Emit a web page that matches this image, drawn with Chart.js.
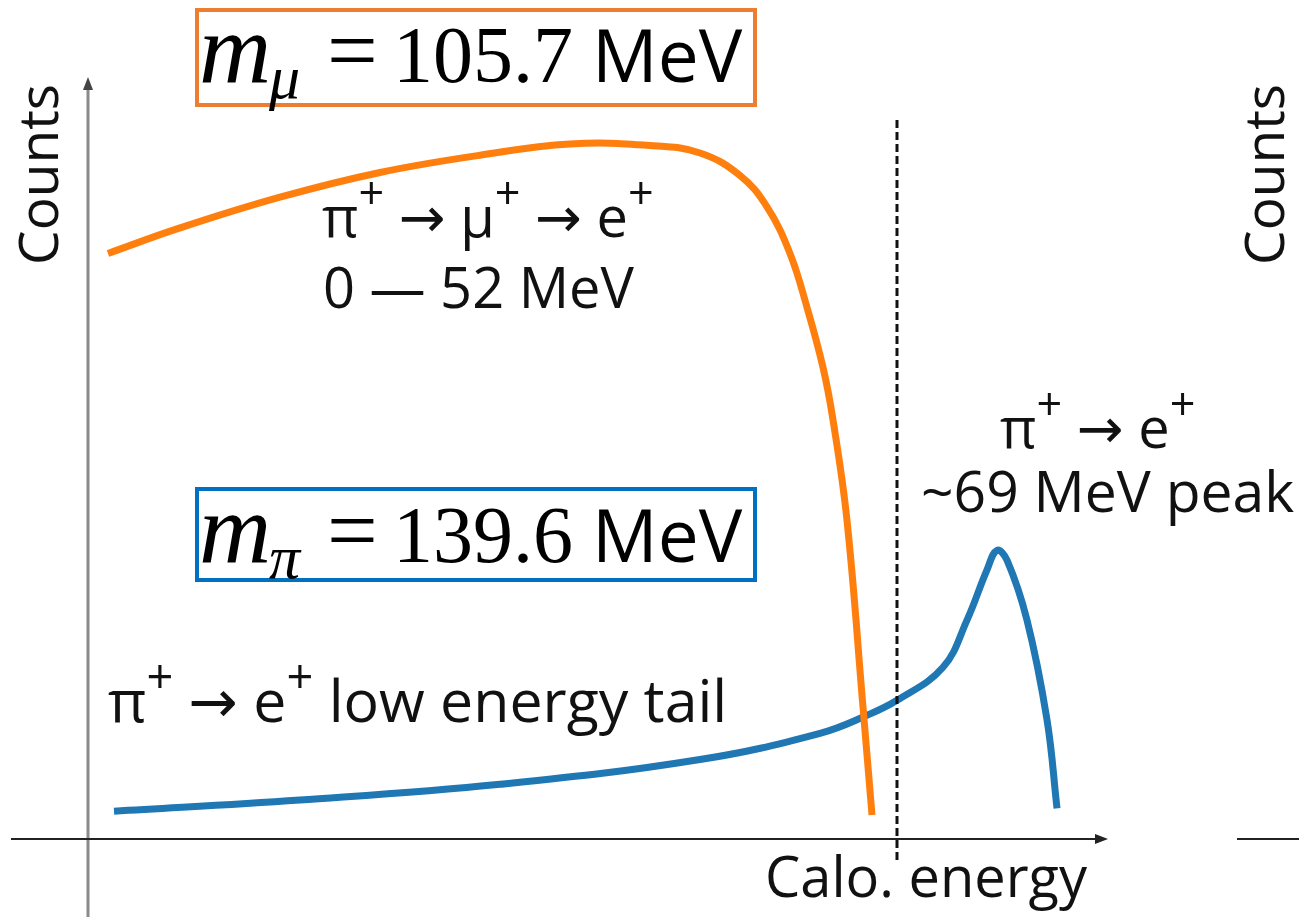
<!DOCTYPE html>
<html>
<head>
<meta charset="utf-8">
<script src="https://cdn.jsdelivr.net/npm/chart.js@4.4.1/dist/chart.umd.min.js"></script>
<style>
  html, body { margin: 0; padding: 0; background: #fff; }
  #wrap { width: 1299px; height: 920px; }
</style>
</head>
<body>
<div id="wrap"><canvas id="spectrum" width="1299" height="920"></canvas></div>
<script>
// Schematic positron spectra (arbitrary energy / count units)
const muChainEnergy = [2.0, 9.2, 19.2, 29.2, 39.2, 48.2, 56.2, 61.2, 65.2, 67.9, 70.2, 71.9, 73.5, 74.5, 75.9, 77.5, 78.4];
const muChainCounts = [78.1, 81.5, 85.6, 88.9, 91.2, 92.7, 92.5, 91.5, 88.5, 84.3, 78.1, 70.9, 62.9, 55.9, 42.5, 17.6, 3.2];

const piDirectEnergy = [2.6, 21.2, 41.2, 61.2, 73.2, 77.9, 80.9, 85.5, 87.9, 89.9, 90.9, 91.9, 93.9, 95.9, 96.9];
const piDirectCounts = [3.7, 5.2, 7.3, 10.6, 14.1, 16.5, 18.5, 22.9, 29.2, 35.9, 38.5, 37.2, 29.2, 15.9, 4.1];

// energy cut separating the two regions
const cutEnergy = 80.9;

const X_MIN = -8.8, X_MAX = 121.1;
const Y_MIN = -10.8, Y_MAX = 111.9;

const SANS = '"Open Sans", "Noto Sans", "DejaVu Sans", sans-serif';
const SERIF = '"Liberation Serif", "DejaVu Serif", serif';

function toPoints(xs, ys) {
    return xs.map((x, i) => ({ x: x, y: ys[i] }));
}

// Draw a run of text where some pieces are superscripts
function drawRich(ctx, x, y, parts, size) {
    let cx = x;
    parts.forEach(p => {
        if (p[1]) {
            ctx.font = Math.round(size * 0.8) + 'px ' + SANS;
            ctx.fillText(p[0], cx, y - size * 0.5);
        } else {
            ctx.font = size + 'px ' + SANS;
            ctx.fillText(p[0], cx, y);
        }
        cx += ctx.measureText(p[0]).width;
    });
}

function drawArrowHead(ctx, x, y, dir) {
    ctx.beginPath();
    if (dir === 'up') {
        ctx.moveTo(x, y);
        ctx.lineTo(x - 5, y + 13);
        ctx.lineTo(x + 5, y + 13);
    } else {
        ctx.moveTo(x, y);
        ctx.lineTo(x - 13, y - 5);
        ctx.lineTo(x - 13, y + 5);
    }
    ctx.closePath();
    ctx.fill();
}

// Mass label: italic m, subscript, then value
function drawMassBox(ctx, left, top, w, h, color, sub, value, baseline) {
    ctx.save();
    ctx.strokeStyle = color;
    ctx.lineWidth = 4;
    ctx.strokeRect(left, top, w, h);
    ctx.fillStyle = '#000';
    ctx.textBaseline = 'alphabetic';
    ctx.font = 'italic 100px ' + SERIF;
    ctx.fillText('m', left + 2, baseline);
    ctx.font = 'italic 62px ' + SERIF;
    ctx.fillText(sub, left + 72, baseline + 16);
    ctx.font = '90px ' + SERIF;
    ctx.fillText('=', left + 130, baseline - 1);
    ctx.font = '80px ' + SERIF;
    ctx.fillText(value, left + 196, baseline);
    ctx.font = '73px ' + SANS;
    ctx.fillText('MeV', left + 395, baseline);
    ctx.restore();
}

const axesPlugin = {
    id: 'axesPlugin',
    beforeDatasetsDraw(chart) {
        const ctx = chart.ctx;
        const xs = chart.scales.x, ys = chart.scales.y;
        const x0 = xs.getPixelForValue(0), y0 = ys.getPixelForValue(0);
        ctx.save();
        // vertical axis
        ctx.strokeStyle = '#8a8a8a';
        ctx.fillStyle = '#444';
        ctx.lineWidth = 3;
        ctx.beginPath();
        ctx.moveTo(x0, chart.height - 3);
        ctx.lineTo(x0, 88);
        ctx.stroke();
        drawArrowHead(ctx, x0, 77, 'up');
        // horizontal axis
        ctx.strokeStyle = '#222';
        ctx.fillStyle = '#222';
        ctx.lineWidth = 2.2;
        ctx.beginPath();
        ctx.moveTo(11, y0);
        ctx.lineTo(1098, y0);
        ctx.stroke();
        drawArrowHead(ctx, 1108, y0, 'right');
        // neighbouring panel edge
        ctx.beginPath();
        ctx.moveTo(1237, y0);
        ctx.lineTo(1299, y0);
        ctx.stroke();
        ctx.restore();
    },
    afterDatasetsDraw(chart) {
        const ctx = chart.ctx;
        const xs = chart.scales.x, ys = chart.scales.y;
        const xc = xs.getPixelForValue(cutEnergy);
        ctx.save();
        ctx.strokeStyle = '#111';
        ctx.lineWidth = 3;
        ctx.setLineDash([8, 4]);
        ctx.beginPath();
        ctx.moveTo(xc, ys.getPixelForValue(95.9));
        ctx.lineTo(xc, ys.getPixelForValue(-3.2));
        ctx.stroke();
        ctx.setLineDash([]);

        ctx.fillStyle = '#111';
        ctx.textBaseline = 'alphabetic';
        ctx.textAlign = 'left';
        drawRich(ctx, 322, 237, [['π', 0], ['+', 1], [' → μ', 0], ['+', 1], [' → e', 0], ['+', 1]], 56);
        drawRich(ctx, 323, 308, [['0 — 52 MeV', 0]], 56);
        drawRich(ctx, 108, 722, [['π', 0], ['+', 1], [' → e', 0], ['+', 1], [' low energy tail', 0]], 59);
        drawRich(ctx, 1000, 448, [['π', 0], ['+', 1], [' → e', 0], ['+', 1]], 56);
        drawRich(ctx, 921, 512, [['~69 MeV peak', 0]], 57);
        drawRich(ctx, 765, 897, [['Calo. energy', 0]], 56);

        // rotated axis titles
        ctx.font = '55px ' + SANS;
        [58, 1284].forEach(bx => {
            ctx.save();
            ctx.translate(bx, 265);
            ctx.rotate(-Math.PI / 2);
            ctx.fillText('Counts', 0, 0);
            ctx.restore();
        });

        drawMassBox(ctx, 197, 10, 558, 95, '#ed7d31', 'μ', '105.7', 82);
        drawMassBox(ctx, 197, 489, 558, 91, '#0070c0', 'π', '139.6', 562);
        ctx.restore();
    }
};

const ctx = document.getElementById('spectrum').getContext('2d');
const spectrumChart = new Chart(ctx, {
    type: 'line',
    data: {
        datasets: [
            {
                label: 'pi -> mu -> e',
                data: toPoints(muChainEnergy, muChainCounts),
                borderColor: '#ff7f0e',
                borderWidth: 7,
                borderCapStyle: 'butt',
                pointRadius: 0,
                tension: 0.4,
                fill: false
            },
            {
                label: 'pi -> e',
                data: toPoints(piDirectEnergy, piDirectCounts),
                borderColor: '#1f77b4',
                borderWidth: 7,
                borderCapStyle: 'butt',
                pointRadius: 0,
                tension: 0.4,
                fill: false
            }
        ]
    },
    options: {
        responsive: false,
        animation: false,
        devicePixelRatio: 1,
        layout: { padding: 0 },
        plugins: {
            legend: { display: false },
            tooltip: { enabled: false }
        },
        scales: {
            x: { type: 'linear', display: false, min: X_MIN, max: X_MAX },
            y: { type: 'linear', display: false, min: Y_MIN, max: Y_MAX }
        }
    },
    plugins: [axesPlugin]
});
</script>
</body>
</html>
